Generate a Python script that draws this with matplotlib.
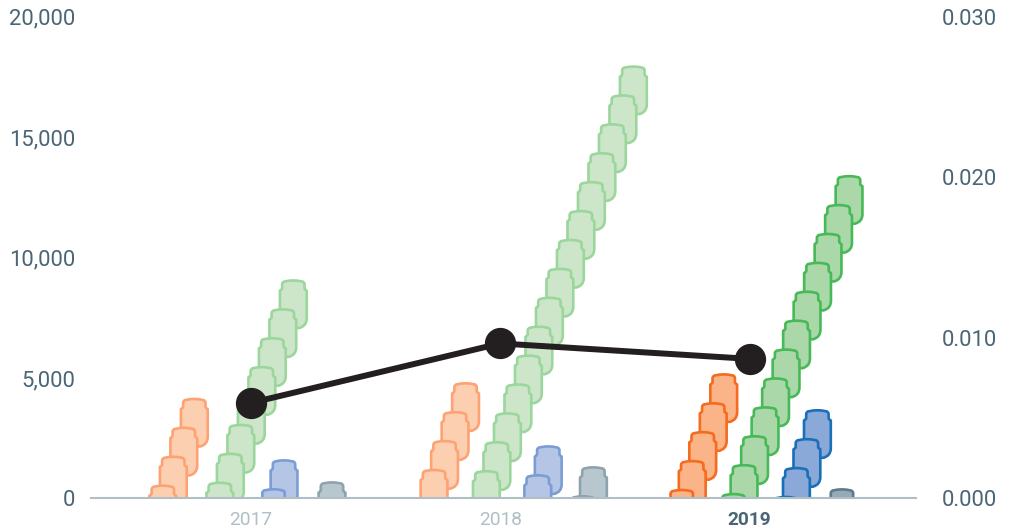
import matplotlib
matplotlib.use("Agg")
import matplotlib.pyplot as plt
from matplotlib.patches import PathPatch
from matplotlib.path import Path
import matplotlib.ticker as mticker

years = ["2017", "2018", "2019"]
orange = [4150, 4800, 5170]
green = [9070, 17950, 13400]
blue = [1600, 2180, 3680]
gray = [685, 1310, 395]
line_rate = [0.00595, 0.00965, 0.00869]

plt.rcParams["font.family"] = ["Roboto", "DejaVu Sans"]

W, H = 1009, 529
AX_L, AX_R, AX_T, AX_B = 91, 916, 16.7, 498.4
X0, X_STEP = 251, 249.25
YMAX = 20000
PX_Y = YMAX / (AX_B - AX_T)

fig = plt.figure(figsize=(W / 100, H / 100), dpi=100)
ax = fig.add_axes([AX_L / W, 1 - AX_B / H, (AX_R - AX_L) / W, (AX_B - AX_T) / H])
ax.set_xlim((AX_L - X0) / X_STEP, (AX_R - X0) / X_STEP)
ax.set_ylim(0, YMAX)

group_shift = [-9 / X_STEP, 2.5 / X_STEP, 9 / X_STEP]
group_spread = [1.05, 0.99, 1.0]
series_shift = [-80 / X_STEP, -26.7 / X_STEP, 26.7 / X_STEP, 80 / X_STEP]
UNIT = 1200
DX = 10.5 / X_STEP


def bottle(cx, top):
    """Bottle outline; px-like shape scaled into data units."""
    v = [(-8.5, 1), (-4, 0.2), (0, 0), (4, 0.2), (8.5, 1),
         (11.2, 1.2), (11.2, 4), (11.2, 7), (11.2, 8.2),
         (11.8, 9), (13.4, 10.2), (13.4, 11.5), (13.4, 38), (13.4, 45.5), (6, 47.5),
         (-6, 47.5), (-13.4, 47.5), (-13.4, 40), (-13.4, 11.5), (-13.4, 10.2),
         (-11.8, 9), (-11.2, 8.2), (-11.2, 7), (-11.2, 4), (-11.2, 1.2), (-8.5, 1), (-8.5, 1)]
    codes = [Path.MOVETO,
             Path.LINETO, Path.LINETO, Path.LINETO, Path.LINETO,
             Path.CURVE3, Path.CURVE3, Path.LINETO, Path.LINETO,
             Path.LINETO, Path.LINETO, Path.LINETO, Path.LINETO,
             Path.CURVE3, Path.CURVE3, Path.LINETO,
             Path.CURVE3, Path.CURVE3, Path.LINETO, Path.LINETO,
             Path.LINETO, Path.LINETO, Path.LINETO, Path.LINETO,
             Path.CURVE3, Path.CURVE3, Path.CLOSEPOLY]
    verts = [(cx + x / X_STEP, top - (y + 0.5) * PX_Y) for x, y in v]
    return Path(verts, codes)


series = [
    (orange, ["#fda274", "#fda274", "#f56b1f"], ["#fdcfb1", "#fdcfb1", "#fbb388"]),
    (green, ["#9bd69c", "#9bd69c", "#47b958"], ["#cde6ca", "#cde6ca", "#abd8a9"]),
    (blue, ["#7c9dd4", "#7c9dd4", "#1a6fb9"], ["#b4c5e6", "#b4c5e6", "#8aa8d8"]),
    (gray, ["#8ea3ad", "#8ea3ad", "#5d7b8a"], ["#b8c7ce", "#b8c7ce", "#95aab5"]),
]

z = 2.0
for s, (values, edges, fills) in enumerate(series):
    for g, value in enumerate(values):
        top_x = g + group_shift[g] + series_shift[s] * group_spread[g] + value / UNIT * DX
        k = 0
        while value - k * UNIT > 0:
            z += 0.001
            ax.add_patch(PathPatch(bottle(top_x - k * DX, value - k * UNIT),
                                   facecolor=fills[g], edgecolor=edges[g],
                                   lw=1.9, zorder=z, joinstyle="round"))
            k += 1

for side in ["top", "left", "right"]:
    ax.spines[side].set_visible(False)
ax.spines["bottom"].set_color("#b0bec5")
ax.spines["bottom"].set_linewidth(1.5)
ax.spines["bottom"].set_zorder(20)

ax.set_xticks(range(len(years)))
ax.set_xticklabels(years)
ax.tick_params(axis="x", length=0, pad=9.2, labelsize=13.8)
for i, lab in enumerate(ax.get_xticklabels()):
    lab.set_color("#4a6575" if i == 2 else "#b0bec5")
    lab.set_fontweight("bold" if i == 2 else "normal")

ax.set_yticks([0, 5000, 10000, 15000, 20000])
ax.yaxis.set_major_formatter(mticker.FuncFormatter(lambda v, _: f"{int(v):,}"))
ax.tick_params(axis="y", length=0, pad=11.5, labelsize=15.8, labelcolor="#4a6575")

ax2 = ax.twinx()
ax2.set_ylim(0, 0.03)
ax2.set_yticks([0, 0.01, 0.02, 0.03])
ax2.set_yticklabels(["0.000", "0.010", "0.020", "0.030"])
ax2.tick_params(axis="y", length=0, pad=18.5, labelsize=15.8, labelcolor="#4a6575")
for side in ax2.spines:
    ax2.spines[side].set_visible(False)
ax2.set_zorder(ax.get_zorder() + 1)
ax2.plot(range(len(years)), line_rate, color="#231f20", lw=4.3, marker="o",
         ms=21.5, clip_on=False, solid_capstyle="round")

fig.savefig("out.png", dpi=100)
